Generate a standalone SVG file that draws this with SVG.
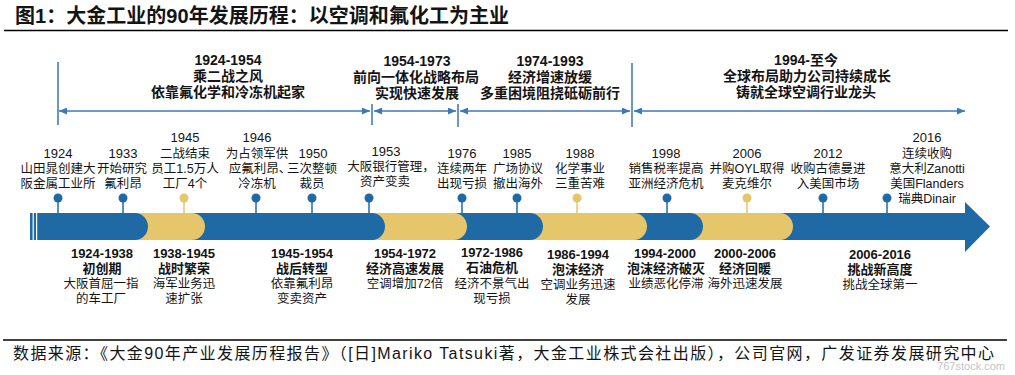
<svg xmlns="http://www.w3.org/2000/svg" width="1015" height="375" viewBox="0 0 1015 375">
<defs>
<style>
text{font-family:'Liberation Sans','Noto Sans CJK SC',sans-serif;fill:#141414}
.yr{font-size:13px;text-anchor:middle}
.lb{font-size:12.5px;text-anchor:middle}
.pb{font-size:13px;font-weight:bold;text-anchor:middle}
.pt{font-size:14px;font-weight:bold;text-anchor:middle}
.span{stroke:#3f79b5;stroke-width:1.3;fill:none;marker-start:url(#ah);marker-end:url(#ah)}
.tick{stroke:#2c6aa8;stroke-width:1.4}
.blue{fill:#1f6aa5}
.yel{fill:#e5c66a}
.stemb{stroke:#1f6aa5;stroke-width:1.5}
.stemy{stroke:#e5c66a;stroke-width:1.5}
</style>
<marker id="ah" viewBox="0 0 8 7" refX="8" refY="3.5" markerWidth="8" markerHeight="7" markerUnits="userSpaceOnUse" orient="auto-start-reverse">
<path d="M0,0 L8,3.5 L0,7 Z" fill="#3f79b5"/>
</marker>
</defs>
<rect width="1015" height="375" fill="#ffffff"/>

<g id="title">
<text x="15" y="23" font-size="20" font-weight="bold" textLength="494" lengthAdjust="spacing">图1：大金工业的90年发展历程：以空调和氟化工为主业</text>
<line x1="4" y1="30.5" x2="1008" y2="30.5" stroke="#000" stroke-width="1.5"/>
</g>

<g id="connectors">
<line class="tick" x1="58" y1="62" x2="58" y2="125"/>
<line class="tick" x1="372" y1="104" x2="372" y2="125"/>
<line class="tick" x1="458" y1="104" x2="458" y2="127"/>
<line class="tick" x1="632" y1="63" x2="632" y2="127"/>
<line class="span" x1="59" y1="111" x2="370" y2="111"/>
<line class="span" x1="374" y1="111" x2="456" y2="111"/>
<line class="span" x1="460" y1="111" x2="630" y2="111"/>
<line class="span" x1="634" y1="111" x2="965" y2="111"/>
</g>

<g id="period-1924-1954">
<text class="pt" x="228" y="65">1924-1954</text>
<text class="pt" x="228" y="81">乘二战之风</text>
<text class="pt" x="228" y="97">依靠氟化学和冷冻机起家</text>
</g>
<g id="period-1954-1973">
<text class="pt" x="417" y="66">1954-1973</text>
<text class="pt" x="416" y="82">前向一体化战略布局</text>
<text class="pt" x="417" y="98">实现快速发展</text>
</g>
<g id="period-1974-1993">
<text class="pt" x="550" y="66">1974-1993</text>
<text class="pt" x="550" y="82">经济增速放缓</text>
<text class="pt" x="550" y="98">多重困境阻挠砥砺前行</text>
</g>
<g id="period-1994">
<text class="pt" x="806" y="65">1994-至今</text>
<text class="pt" x="807" y="81">全球布局助力公司持续成长</text>
<text class="pt" x="806" y="97">铸就全球空调行业龙头</text>
</g>

<g id="timeline-bar">
<rect class="blue" x="30" y="213" width="936" height="27"/>
<path class="blue" d="M965,202 L990,226.5 L965,252 Z"/>
<path class="yel" d="M128,213 H192 A13 13.5 0 0 1 192,240 H128 Z"/>
<path class="blue" d="M108,213 H135 A13 13.5 0 0 1 135,240 H108 Z"/>
<path class="yel" d="M365,213 H454 A13 13.5 0 0 1 454,240 H365 Z"/>
<path class="blue" d="M345,213 H372 A13 13.5 0 0 1 372,240 H345 Z"/>
<path class="yel" d="M523,213 H634 A13 13.5 0 0 1 634,240 H523 Z"/>
<path class="blue" d="M503,213 H530 A13 13.5 0 0 1 530,240 H503 Z"/>
<path class="yel" d="M683,213 H780 A13 13.5 0 0 1 780,240 H683 Z"/>
<path class="blue" d="M663,213 H690 A13 13.5 0 0 1 690,240 H663 Z"/>
<rect x="32.6" y="213" width="1.2" height="27" fill="#fff"/>
<rect x="36" y="213" width="1.2" height="27" fill="#fff"/>
</g>

<g id="event-1924">
<line class="stemb" x1="58" y1="201" x2="58" y2="213"/><circle class="blue" cx="58" cy="198" r="4.5"/>
<text class="yr" x="58" y="157.5">1924</text>
<text class="lb" x="58" y="172.5">山田晁创建大</text>
<text class="lb" x="58" y="187.5">阪金属工业所</text>
</g>
<g id="event-1933">
<line class="stemb" x1="123" y1="201" x2="123" y2="213"/><circle class="blue" cx="123" cy="198" r="4.5"/>
<text class="yr" x="123" y="157.5">1933</text>
<text class="lb" x="122" y="172.5">开始研究</text>
<text class="lb" x="123" y="187.5">氟利昂</text>
</g>
<g id="event-1945">
<line class="stemy" x1="184" y1="201" x2="184" y2="213"/><circle class="yel" cx="184" cy="198" r="4.5"/>
<text class="yr" x="185" y="141.5">1945</text>
<text class="lb" x="185" y="157.5">二战结束</text>
<text class="lb" x="185" y="172.5">员工1.5万人</text>
<text class="lb" x="185" y="187.5">工厂4个</text>
</g>
<g id="event-1946">
<line class="stemb" x1="256" y1="201" x2="256" y2="213"/><circle class="blue" cx="256" cy="198" r="4.5"/>
<text class="yr" x="257" y="141.5">1946</text>
<text class="lb" x="257" y="157.5">为占领军供</text>
<text class="lb" x="260" y="172.5">应氟利昂、</text>
<text class="lb" x="257" y="187.5">冷冻机</text>
</g>
<g id="event-1950">
<line class="stemb" x1="312" y1="201" x2="312" y2="213"/><circle class="blue" cx="312" cy="198" r="4.5"/>
<text class="yr" x="313" y="157.5">1950</text>
<text class="lb" x="312" y="172.5">三次整顿</text>
<text class="lb" x="312" y="187.5">裁员</text>
</g>
<g id="event-1953">
<line class="stemb" x1="369" y1="201" x2="369" y2="213"/><circle class="blue" cx="369" cy="198" r="4.5"/>
<text class="yr" x="386" y="155.5">1953</text>
<text class="lb" x="391" y="170.5">大阪银行管理，</text>
<text class="lb" x="385" y="185.5">资产变卖</text>
</g>
<g id="event-1976">
<line class="stemb" x1="462" y1="201" x2="462" y2="213"/><circle class="blue" cx="462" cy="198" r="4.5"/>
<text class="yr" x="462" y="157.5">1976</text>
<text class="lb" x="462" y="172.5">连续两年</text>
<text class="lb" x="462" y="187.5">出现亏损</text>
</g>
<g id="event-1985">
<line class="stemb" x1="517" y1="201" x2="517" y2="213"/><circle class="blue" cx="517" cy="198" r="4.5"/>
<text class="yr" x="517" y="157.5">1985</text>
<text class="lb" x="518" y="172.5">广场协议</text>
<text class="lb" x="518" y="187.5">撤出海外</text>
</g>
<g id="event-1988">
<line class="stemy" x1="577" y1="201" x2="577" y2="213"/><circle class="yel" cx="577" cy="198" r="4.5"/>
<text class="yr" x="580" y="157.5">1988</text>
<text class="lb" x="580" y="172.5">化学事业</text>
<text class="lb" x="580" y="187.5">三重苦难</text>
</g>
<g id="event-1998">
<line class="stemb" x1="667" y1="201" x2="667" y2="213"/><circle class="blue" cx="667" cy="198" r="4.5"/>
<text class="yr" x="666" y="157.5">1998</text>
<text class="lb" x="666" y="172.5">销售税率提高</text>
<text class="lb" x="666" y="187.5">亚洲经济危机</text>
</g>
<g id="event-2006">
<line class="stemy" x1="747" y1="201" x2="747" y2="213"/><circle class="yel" cx="747" cy="198" r="4.5"/>
<text class="yr" x="747" y="157.5">2006</text>
<text class="lb" x="747" y="172.5">并购OYL取得</text>
<text class="lb" x="747" y="187.5">麦克维尔</text>
</g>
<g id="event-2012">
<line class="stemb" x1="823" y1="201" x2="823" y2="213"/><circle class="blue" cx="823" cy="198" r="4.5"/>
<text class="yr" x="828" y="157.5">2012</text>
<text class="lb" x="828" y="172.5">收购古德曼进</text>
<text class="lb" x="828" y="187.5">入美国市场</text>
</g>
<g id="event-2016">
<line class="stemb" x1="887" y1="201" x2="887" y2="213"/><circle class="blue" cx="887" cy="198" r="4.5"/>
<text class="yr" x="927" y="141.5">2016</text>
<text class="lb" x="927" y="157.5">连续收购</text>
<text class="lb" x="927" y="172.5">意大利Zanotti</text>
<text class="lb" x="927" y="187.5">美国Flanders</text>
<text class="lb" x="927" y="203">瑞典Dinair</text>
</g>

<g id="phase-1924-1938">
<text class="pb" x="102" y="258">1924-1938</text>
<text class="pb" x="102" y="273">初创期</text>
<text class="lb" x="101" y="288">大阪首屈一指</text>
<text class="lb" x="101" y="303">的车工厂</text>
</g>
<g id="phase-1938-1945">
<text class="pb" x="184" y="258">1938-1945</text>
<text class="pb" x="184" y="273">战时繁荣</text>
<text class="lb" x="184" y="288">海军业务迅</text>
<text class="lb" x="184" y="303">速扩张</text>
</g>
<g id="phase-1945-1954">
<text class="pb" x="302" y="258">1945-1954</text>
<text class="pb" x="302" y="273">战后转型</text>
<text class="lb" x="302" y="288">依靠氟利昂</text>
<text class="lb" x="302" y="303">变卖资产</text>
</g>
<g id="phase-1954-1972">
<text class="pb" x="405" y="258">1954-1972</text>
<text class="pb" x="405" y="273">经济高速发展</text>
<text class="lb" x="405" y="288">空调增加72倍</text>
</g>
<g id="phase-1972-1986">
<text class="pb" x="492" y="257">1972-1986</text>
<text class="pb" x="492" y="272">石油危机</text>
<text class="lb" x="492" y="288">经济不景气出</text>
<text class="lb" x="492" y="303">现亏损</text>
</g>
<g id="phase-1986-1994">
<text class="pb" x="578" y="259">1986-1994</text>
<text class="pb" x="578" y="274">泡沫经济</text>
<text class="lb" x="578" y="289">空调业务迅速</text>
<text class="lb" x="578" y="304">发展</text>
</g>
<g id="phase-1994-2000">
<text class="pb" x="665" y="258">1994-2000</text>
<text class="pb" x="666" y="273">泡沫经济破灭</text>
<text class="lb" x="666" y="288">业绩恶化停滞</text>
</g>
<g id="phase-2000-2006">
<text class="pb" x="745" y="258">2000-2006</text>
<text class="pb" x="745" y="273">经济回暖</text>
<text class="lb" x="745" y="288">海外迅速发展</text>
</g>
<g id="phase-2006-2016">
<text class="pb" x="880" y="259">2006-2016</text>
<text class="pb" x="880" y="274">挑战新高度</text>
<text class="lb" x="880" y="289">挑战全球第一</text>
</g>

<g id="footer">
<line x1="3" y1="340" x2="1007" y2="340" stroke="#000" stroke-width="1.5"/>
<text x="13" y="359" font-size="16" textLength="981" lengthAdjust="spacing">数据来源：《大金90年产业发展历程报告》（[日]Mariko Tatsuki著，大金工业株式会社出版），公司官网，广发证券发展研究中心</text>
<text x="1005" y="370" font-size="11" text-anchor="end" style="fill:#c4c4c4">767stock.com</text>
</g>
</svg>
